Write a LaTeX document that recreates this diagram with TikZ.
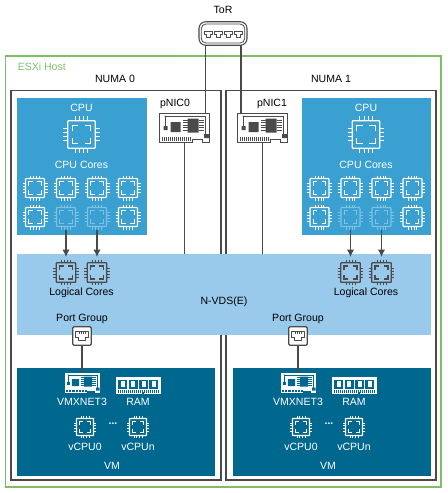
\documentclass[tikz,border=0pt]{standalone}
\usepackage{fontspec}
\setmainfont{Liberation Sans}
\usetikzlibrary{arrows.meta,positioning,calc}
\definecolor{dark}{HTML}{4A4A4A}
\definecolor{hostgreen}{HTML}{7CBF66}
\definecolor{cpublue}{HTML}{3A9FD1}
\definecolor{vdsblue}{HTML}{99C9EB}
\definecolor{vmteal}{HTML}{00688F}
\newcommand{\unitpx}{0.75pt}
\tikzset{
  label/.style={font=\fontsize{7.9}{9}\selectfont, text=#1, inner sep=0pt, text height=5.7pt, text depth=0pt},
  label/.default=black,
  box/.style={draw=none, inner sep=0pt, outer sep=0pt, minimum width=#1*\unitpx},
  framebox/.style={box=#1, draw=dark, line width=0.8pt, fill=white},
  hostbox/.style={box=#1, draw=hostgreen, line width=0.9pt},
  cpubox/.style={box=#1, fill=cpublue},
  vdsbox/.style={box=#1, fill=vdsblue},
  vmbox/.style={box=#1, fill=vmteal},
  iconbox/.style={box=#1, minimum height=#1*\unitpx},
  wire/.style={draw=dark, line width=0.8pt},
  arrow/.style={-{Latex[length=5.5pt,width=5.5pt]}, draw=dark, line width=0.9pt, shorten >=2pt},
  pics/chipicon/.style={code={
    \draw[#1, line width=0.9pt, rounded corners=0.5pt] (-9.5,-9.5) rectangle (9.5,9.5);
    \draw[#1, line width=0.9pt]
      (-6.3,-2.3) -- (-6.3,-6.3) -- (-2.3,-6.3) (2.3,-6.3) -- (6.3,-6.3) -- (6.3,-2.3)
      (6.3,2.3) -- (6.3,6.3) -- (2.3,6.3) (-2.3,6.3) -- (-6.3,6.3) -- (-6.3,2.3);
    \foreach \p in {-4.35,-1.45,1.45,4.35} {
      \draw[#1, line width=0.55pt] (\p,-12.5) -- (\p,-9.5) (\p,9.5) -- (\p,12.5) (-12.5,\p) -- (-9.5,\p) (9.5,\p) -- (12.5,\p);
    }
  }},
  pics/nicicon/.style={code={
    \draw[#1, fill=white, line width=0.7pt] (-25,-14.5) -- (25,-14.5) -- (25,14.5) -- (18,14.5) -- (18,11.5)
      -- (8,11.5) -- (8,14.5) -- (-25,14.5) -- cycle;
    \fill[#1] (-14,-5.5) rectangle (-4,4.5) (3,-9) rectangle (14,5) (-21,-1.5) rectangle (-17,2.5) (19.5,6.5) rectangle (24.5,10.5);
    \draw[#1, line width=0.4pt] (-19,-1.5) -- (-19,-11) -- (21,-11) -- (21,6.5);
    \fill[#1] (-19,-11) circle (1);
    \foreach \p in {-7.5,-5,...,3} {
      \draw[#1, line width=0.4pt] (-2,\p) -- (3,\p) (14,\p) -- (19,\p);
    }
    \foreach \p in {-22,-20,...,7} {
      \draw[#1, line width=0.5pt] (\p,9.5) -- (\p,13);
    }
  }},
  pics/ramicon/.style={code={
    \draw[white, fill=white, line width=0.5pt] (-22,-8) -- (22,-8) -- (22,8) -- (6,8) -- (6,6) -- (3,6) -- (3,8) -- (-22,8) -- cycle;
    \foreach \p in {-15.5,-5,5.5,15.5} {
      \fill[#1] (\p-4.5,-5.5) rectangle (\p+4.5,3.5);
      \fill[white] (\p-2,-4) rectangle (\p+2,2);
    }
    \foreach \p in {-20,-18,...,20} {
      \draw[#1, line width=0.3pt] (\p,5) -- (\p,7.5);
    }
  }},
  pics/porticon/.style={code={
    \draw[#1, fill=white, line width=0.7pt, line join=round] (-4.3,-3) -- (4.3,-3) -- (4.3,0.8) -- (2.2,0.8) -- (2.2,3)
      -- (-2.2,3) -- (-2.2,0.8) -- (-4.3,0.8) -- cycle;
    \foreach \p in {-2,-0.7,0.7,2} {
      \draw[#1, line width=0.2pt] (\p,-3) -- (\p,-1.6);
    }
  }}
}
% name, x, y, scale, colour
\newcommand{\chipnode}[5]{
  \node[iconbox=25*#4] (#1) at (#2,#3) {};
  \pic[scale=#4] at (#1) {chipicon={#5}};
}

\begin{document}
\begin{tikzpicture}[x=\unitpx, y=-\unitpx]
  \useasboundingbox (0,0) rectangle (447,493);

  % frames
  \node[hostbox=435.5, minimum height=431*\unitpx] (host) at (223.25,271.5) {};
  \node[label=hostgreen, anchor=west] (hostlabel) at (17.5,67) {ESXi Host};
  \node[framebox=210, minimum height=389.5*\unitpx] (numa0) at (116,285.25) {};
  \node[framebox=210, minimum height=389.5*\unitpx] (numa1) at (331,285.25) {};
  \node[label] (numa0label) at (115,78.5) {NUMA 0};
  \node[label] (numa1label) at (331,78.5) {NUMA 1};
  \node[vdsbox=414, minimum height=81.5*\unitpx] (nvds) at (224,294.25) {};
  \node[label] (nvdslabel) at (224,301) {N-VDS(E)};

  % switch and uplinks
  \node[label] (torlabel) at (223,10) {ToR};
  \node[box=48, minimum height=23.5*\unitpx, draw=dark, line width=0.8pt, fill=white, rounded corners=5pt] (tor) at (223,33.5) {};
  \node[box=43.5, minimum height=19*\unitpx, draw=dark, line width=0.6pt, rounded corners=3.5pt] (torinner) at (tor) {};
  \foreach \x in {208.3,218.3,228.3,238.3} {
    \pic at (\x,34) {porticon=dark};
  }
  \node[iconbox=29, minimum width=50*\unitpx] (pnic0) at (184.5,127.5) {};
  \node[iconbox=29, minimum width=50*\unitpx] (pnic1) at (262.5,127.5) {};
  \draw[wire] ([xshift=5pt]tor.south west) -- ([xshift=5pt]tor.south west |- pnic0.north);
  \draw[wire] ([xshift=-4.5pt]tor.south east) -- ([xshift=-4.5pt]tor.south east |- pnic1.north);
  \draw[wire] (pnic0.south) -- (pnic0.south |- nvds.north);
  \draw[wire] (pnic1.south) -- (pnic1.south |- nvds.north);
  \pic at (pnic0) {nicicon=dark};
  \pic at (pnic1) {nicicon=dark};
  \node[label] (pnic0label) at (175,103) {pNIC0};
  \node[label] (pnic1label) at (272,103) {pNIC1};

  % one NUMA side at a time
  \foreach \sd/\cpux/\vmx in {0/0/0, 1/284.5/216} {
    \node[cpubox=129.5, minimum height=137.5*\unitpx] (cpu\sd) at (81.75+\cpux,166.25) {};
    \node[label=white] (cpulabel\sd) at (81.5+\cpux,108) {CPU};
    \chipnode{cpuchip\sd}{81.5+\cpux}{134.5}{1.45}{white}
    \node[label=white] (coreslabel\sd) at (81.5+\cpux,165) {CPU Cores};
    \foreach \cx [count=\i] in {35,66,97,128} {
      \chipnode{coreA\sd\i}{\cx+\cpux}{188}{1}{white}
      \ifnum\i=2 \chipnode{coreB\sd\i}{\cx+\cpux}{217}{1}{white!35!cpublue}
      \else\ifnum\i=3 \chipnode{coreB\sd\i}{\cx+\cpux}{217}{1}{white!35!cpublue}
      \else \chipnode{coreB\sd\i}{\cx+\cpux}{217}{1}{white}
      \fi\fi
    }
    \chipnode{logic\sd2}{66+\cpux}{272.5}{1.03}{dark}
    \chipnode{logic\sd3}{97+\cpux}{272.5}{1.03}{dark}
    \draw[arrow] (coreB\sd2.south) -- (logic\sd2.north);
    \draw[arrow] (coreB\sd3.south) -- (logic\sd3.north);
    \node[label] (logiclabel\sd) at (81.5+\cpux,292) {Logical Cores};

    \node[vmbox=197.5, minimum height=108*\unitpx] (vm\sd) at (115.75+\vmx,422) {};
    \node[label] (grouplabel\sd) at (82+\vmx,318) {Port Group};
    \node[box=18.5, minimum height=18.5*\unitpx, draw=dark, line width=0.9pt, fill=white, rounded corners=1pt] (port\sd) at (82+\vmx,336) {};
    \pic[scale=1.45] at (port\sd) {porticon=dark};
    \node[iconbox=20, minimum width=36*\unitpx] (vnic\sd) at (82+\vmx,383) {};
    \pic[scale=0.72] at (vnic\sd) {nicicon=vmteal};
    \draw[wire] (port\sd) -- (vnic\sd.north);
    \node[iconbox=16, minimum width=44*\unitpx] (ram\sd) at (138+\vmx,385) {};
    \pic at (ram\sd) {ramicon=vmteal};
    \node[label=white] (vniclabel\sd) at (82+\vmx,401.5) {VMXNET3};
    \node[label=white] (ramlabel\sd) at (138+\vmx,401.5) {RAM};
    \chipnode{vcpuA\sd}{85+\vmx}{427}{0.9}{white}
    \chipnode{vcpuB\sd}{138+\vmx}{427}{0.9}{white}
    \node[label=white] (dots\sd) at (113+\vmx,421) {\textbf{...}};
    \node[label=white] (vcpuAlabel\sd) at (85+\vmx,447) {vCPU0};
    \node[label=white] (vcpuBlabel\sd) at (138+\vmx,447) {vCPUn};
    \node[label=white] (vmlabel\sd) at (112+\vmx,466) {VM};
  }
\end{tikzpicture}
\end{document}
